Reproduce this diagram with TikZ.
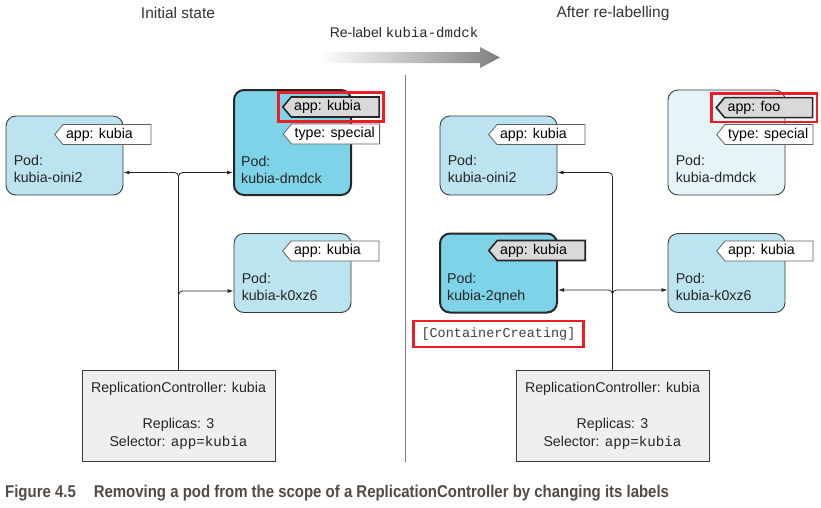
\documentclass[tikz,border=0pt]{standalone}
\usepackage{fontspec}
\setmainfont{Liberation Sans}
\setmonofont{Liberation Mono}
\usepackage{graphicx}
\usepackage{tikz}
\usetikzlibrary{arrows.meta,positioning,shapes.symbols,fit}
\definecolor{podc}{HTML}{BCE3F0}
\definecolor{podnew}{HTML}{7FD3E8}
\definecolor{podold}{HTML}{E6F4F8}
\definecolor{rcbg}{HTML}{EEEFF1}
\definecolor{lnc}{HTML}{3A3A3A}
\definecolor{taggray}{HTML}{D9D9D9}
\definecolor{hlred}{HTML}{EE1C24}
\definecolor{capc}{HTML}{524A45}
\newcommand\tagtxt[1]{\makebox[82pt][l]{#1}}
\tikzset{
  pod/.style={draw=lnc,line width=0.9pt,rounded corners=10pt,fill=podc,minimum width=117pt,minimum height=79pt,inner sep=0pt},
  podbig/.style={pod,minimum height=105pt},
  podtxt/.style={anchor=north west,inner sep=0pt,align=left,font=\fontsize{14.2}{17}\selectfont,text=black!85},
  tagw/.style={signal,signal to=west,signal pointer angle=100,draw=lnc!80,line width=0.8pt,fill=white,anchor=east,
    inner xsep=3pt,inner ysep=0pt,minimum height=20pt,font=\fontsize{14.2}{17}\selectfont},
  tagg/.style={tagw,fill=taggray,draw=black!85,line width=1.6pt},
  hlbox/.style={draw=hlred,line width=2.6pt,inner xsep=3.5pt,inner ysep=3.5pt},
  rc/.style={draw=lnc,line width=0.9pt,fill=rcbg,minimum width=193pt,minimum height=91pt,align=center,
    font=\fontsize{14.2}{18}\selectfont,text=black!85},
  conn/.style={-{Latex[length=6pt,width=4pt]},line width=0.8pt,draw=black!85,rounded corners=4pt},
  head/.style={font=\fontsize{15.5}{18}\selectfont,text=black!80}
}

\begin{document}
\begin{tikzpicture}[x=1pt,y=-1pt]
\useasboundingbox (0,0) rectangle (821,507);
% titles and re-label arrow
\node[head] (tl) at (178,13) {Initial state};
\node[head] (tr) at (613,13) {After re-labelling};
\node[font=\fontsize{14}{17}\selectfont,text=black!85] (rl) at (404,33) {Re-label \texttt{kubia-dmdck}};
\shade[left color=white,right color=black!50] (320,52) -- (480,52) -- (480,47) -- (500,57.5) -- (480,68) -- (480,63) -- (320,63) -- cycle;
\draw[black!50,line width=0.9pt] (405,75) -- (405,462);

% initial state
\node[pod] (lp1) at (64.5,155.5) {};
\node[podbig,fill=podnew,line width=2pt,draw=black!85] (lp2) at (292.5,142.5) {};
\node[pod] (lp3) at (292.5,273) {};
\node[tagw] (lt1) at ([shift={(28,19)}]lp1.north east) {\tagtxt{app: kubia}};
\node[tagg] (lg) at ([shift={(28,18)}]lp2.north east) {\tagtxt{app: kubia}};
\node[tagw] (lt2) at ([shift={(28,45)}]lp2.north east) {\tagtxt{type: special}};
\node[tagw] (lt3) at ([shift={(28,18)}]lp3.north east) {\tagtxt{app: kubia}};
\node[hlbox,fit=(lg)] (lhl) {};
\node[podtxt] at ([shift={(8,-40)}]lp1.south west) {Pod:\\kubia-oini2};
\node[podtxt] at ([shift={(8,-40)}]lp2.south west) {Pod:\\kubia-dmdck};
\node[podtxt] at ([shift={(8,-40)}]lp3.south west) {Pod:\\kubia-k0xz6};
\node[rc] (lrc) at (178.5,415.5) {ReplicationController: kubia\\[18pt]Replicas: 3\\Selector: \texttt{app=kubia}};
\coordinate (lj) at (178.5,172.5);
\coordinate (lk) at (178.5,291);
\draw[conn] (lrc.north) |- (lp1.east |- lj);
\draw[conn] (lrc.north) |- (lp2.west |- lj);
\draw[conn] (lrc.north) |- (lp3.west |- lk);

% after re-labelling
\node[pod] (rp1) at (498.5,155.5) {};
\node[podbig,fill=podold] (rp2) at (726.5,142.5) {};
\node[pod,fill=podnew,line width=2pt,draw=black!85] (rp3) at (498.5,273) {};
\node[pod] (rp4) at (726.5,273) {};
\node[tagw] (rt1) at ([shift={(28,19)}]rp1.north east) {\tagtxt{app: kubia}};
\node[tagg] (rg) at ([shift={(28,18)}]rp2.north east) {\tagtxt{app: foo}};
\node[tagw] (rt2) at ([shift={(28,45)}]rp2.north east) {\tagtxt{type: special}};
\node[tagg] (rt3) at ([shift={(28,18)}]rp3.north east) {\tagtxt{app: kubia}};
\node[tagw] (rt4) at ([shift={(28,18)}]rp4.north east) {\tagtxt{app: kubia}};
\node[hlbox,fit=(rg)] (rhl) {};
\node[podtxt] at ([shift={(8,-40)}]rp1.south west) {Pod:\\kubia-oini2};
\node[podtxt] at ([shift={(8,-40)}]rp2.south west) {Pod:\\kubia-dmdck};
\node[podtxt] at ([shift={(8,-40)}]rp3.south west) {Pod:\\kubia-2qneh};
\node[podtxt] at ([shift={(8,-40)}]rp4.south west) {Pod:\\kubia-k0xz6};
\node[draw=hlred,line width=2.6pt,minimum width=170pt,minimum height=26pt,below=6pt of rp3,
  font=\ttfamily\fontsize{13.5}{16}\selectfont,text=black!75] (cc) {[ContainerCreating]};
\node[rc] (rrc) at (612.5,415.5) {ReplicationController: kubia\\[18pt]Replicas: 3\\Selector: \texttt{app=kubia}};
\coordinate (rj) at (612.5,172.5);
\coordinate (rk) at (612.5,290);
\draw[conn] (rrc.north) |- (rp1.east |- rj);
\draw[conn] (rrc.north) |- (rp3.east |- rk);
\draw[conn] (rrc.north) |- (rp4.west |- rk);

% caption
\node[anchor=west,inner sep=0pt,text=capc,font=\bfseries\fontsize{17}{20}\selectfont] (cap) at (5,493)
  {\scalebox{0.88}[1]{Figure 4.5\hspace{1.2em}Removing a pod from the scope of a ReplicationController by changing its labels}};
\end{tikzpicture}
\end{document}
